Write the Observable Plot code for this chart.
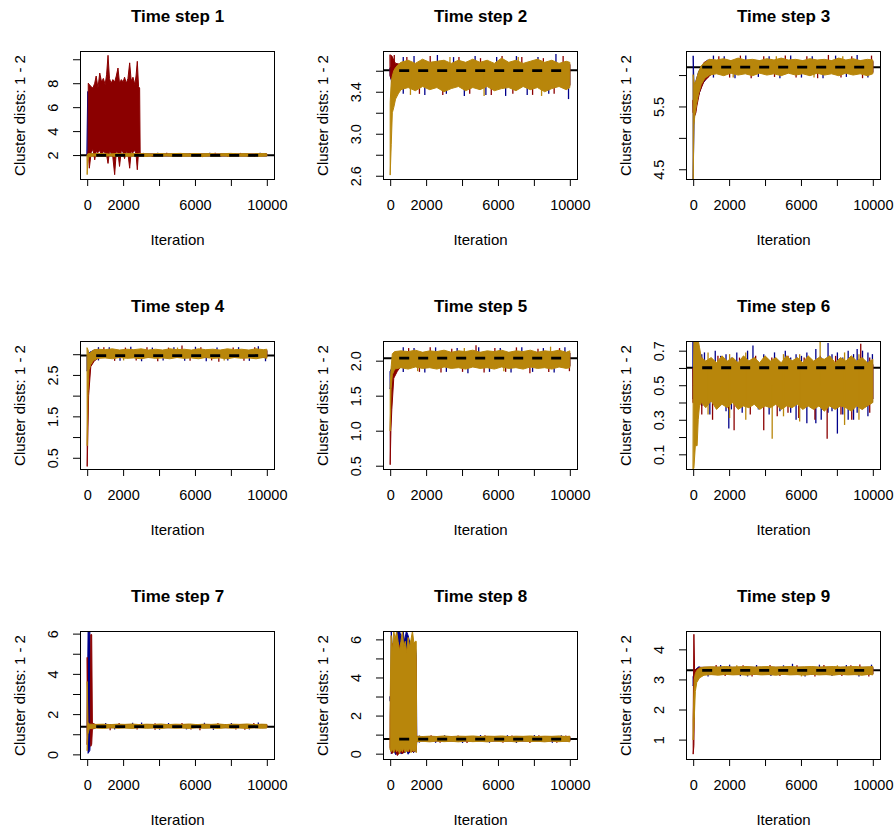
<!DOCTYPE html>
<html>
<head>
<meta charset="utf-8">
<script src="https://cdn.jsdelivr.net/npm/d3@7"></script>
<script src="https://cdn.jsdelivr.net/npm/@observablehq/plot@0.6"></script>
<style>
  html, body { margin: 0; padding: 0; background: white; }
  #wrap { position: relative; width: 895px; height: 832px; background: white; overflow: hidden; }
  .cell { position: absolute; }
</style>
</head>
<body>
<div id="wrap"></div>
<script>
// ---------- shared axis values ----------
const xTicks = [0, 2000, 4000, 6000, 8000, 10000];
const xTickLabels = ["0", "2000", "6000", "10000"];
const yAxisTitle = "Cluster dists: 1 - 2";
const xAxisTitle = "Iteration";
const chainColors = ["#00008B", "#8B0000", "#B8860B"]; // chain 1, 2, 3

// Each chain: band = [iteration, low, high] (dense trace envelope), spikes = [iteration, low, high] (single excursions)

// ---------- Time step 1 ----------
const ts1YRange = [0, 10.69];
const ts1YTicks = [2, 4, 6, 8, 10];
const ts1YLabels = ["2", "4", "6", "8"];
const ts1True = 2.02, ts1Mean = 2.02;
const ts1Blue = [[0,2.0,4.3],[30,2.0,7.3],[60,2.0,7.3],[100,1.95,2.1],[500,1.94,2.08],[10000,1.94,2.08]];
const ts1Red = [[0,2.0,2.05],[50,2.0,2.05],[60,2.3,8.0],[120,0.9,7.9],[220,2.2,7.7],[320,2.5,7.6],[420,1.6,8.0],[500,2.3,8.6],[600,2.2,7.6],[700,2.4,8.85],[800,1.9,8.1],[900,2.3,8.4],[1000,2.2,7.9],[1080,2.0,8.7],[1160,1.3,10.33],[1240,2.3,8.4],[1330,2.2,8.0],[1430,1.8,8.3],[1530,0.36,8.1],[1620,2.3,8.6],[1715,2.2,9.27],[1800,1.05,8.0],[1900,2.4,8.3],[2000,2.2,8.1],[2080,1.7,8.5],[2180,2.3,8.0],[2270,2.1,8.4],[2366,0.9,9.7],[2450,2.3,8.2],[2550,2.2,8.5],[2650,2.4,7.9],[2720,2.1,8.6],[2790,0.77,9.83],[2860,2.3,7.7],[2920,2.2,7.6],[2950,1.94,2.08],[10000,1.94,2.08]];
const ts1Gold = [[0,0.4,2.0],[40,1.5,2.1],[100,1.88,2.12],[400,1.92,2.1],[800,1.9,2.13],[1200,1.93,2.09],[1600,1.89,2.12],[2000,1.92,2.1],[2400,1.9,2.14],[2800,1.93,2.1],[3200,1.88,2.12],[3600,1.92,2.09],[4000,1.9,2.13],[4400,1.93,2.1],[4800,1.89,2.12],[5200,1.91,2.14],[5600,1.9,2.1],[6000,1.93,2.12],[6400,1.88,2.1],[6800,1.92,2.13],[7200,1.9,2.09],[7600,1.93,2.12],[8000,1.89,2.14],[8400,1.92,2.1],[8800,1.9,2.12],[9200,1.93,2.09],[9600,1.89,2.13],[10000,1.92,2.11]];
const ts1BlueSpikes = [[3300,1.85,2.1],[3900,1.95,2.19],[4700,1.83,2.05],[5300,1.95,2.18],[6100,1.86,2.05],[6800,1.95,2.2],[7400,1.84,2.05],[8200,1.95,2.17],[8900,1.85,2.05],[9600,1.95,2.19]];
const ts1RedSpikes = [[3100,1.95,2.18],[3600,1.84,2.05],[4400,1.95,2.2],[5000,1.86,2.05],[5700,1.95,2.17],[6400,1.83,2.05],[7100,1.95,2.19],[7800,1.85,2.05],[8500,1.95,2.18],[9300,1.84,2.05],[9900,1.95,2.17]];
const ts1GoldSpikes = [];

// ---------- Time step 2 ----------
const ts2YRange = [2.569, 3.788];
const ts2YTicks = [2.6, 2.8, 3.0, 3.2, 3.4, 3.6];
const ts2YLabels = ["2.6", "3.0", "3.4"];
const ts2True = 3.61, ts2Mean = 3.605;
const ts2Blue = [[0,3.55,3.63],[150,3.45,3.65],[300,3.42,3.66],[600,3.46,3.66],[10000,3.46,3.66]];
const ts2Red = [[0,3.55,3.75],[100,3.5,3.74],[200,3.3,3.7],[300,3.37,3.67],[600,3.46,3.66],[10000,3.46,3.66]];
const ts2Gold = [[0,2.61,3.3],[60,2.9,3.5],[120,3.2,3.55],[200,3.25,3.6],[300,3.33,3.63],[450,3.38,3.66],[600,3.42,3.68],[1000,3.44,3.7],[1400,3.41,3.67],[1800,3.45,3.71],[2200,3.42,3.68],[2600,3.44,3.69],[3000,3.4,3.7],[3400,3.43,3.67],[3800,3.45,3.7],[4200,3.41,3.68],[4600,3.44,3.71],[5000,3.42,3.68],[5400,3.45,3.7],[5800,3.41,3.67],[6200,3.43,3.72],[6600,3.44,3.68],[7000,3.41,3.7],[7400,3.45,3.67],[7800,3.42,3.69],[8200,3.44,3.71],[8600,3.4,3.68],[9000,3.43,3.7],[9400,3.45,3.67],[9800,3.42,3.69],[10000,3.44,3.68]];
const ts2BlueSpikes = [[700,3.38,3.73],[1300,3.5,3.74],[1900,3.37,3.6],[2600,3.5,3.75],[3100,3.38,3.6],[3500,3.5,3.73],[4100,3.36,3.6],[4700,3.5,3.74],[5300,3.37,3.6],[5900,3.5,3.73],[6400,3.36,3.6],[7000,3.5,3.74],[7600,3.37,3.6],[8200,3.5,3.73],[8800,3.38,3.6],[9200,3.5,3.76],[9900,3.33,3.6]];
const ts2RedSpikes = [[200,3.3,3.75],[900,3.5,3.73],[1600,3.38,3.6],[2200,3.5,3.74],[2900,3.37,3.6],[3800,3.5,3.73],[4400,3.38,3.6],[5000,3.5,3.72],[5600,3.37,3.6],[6200,3.5,3.74],[6800,3.38,3.6],[7300,3.5,3.73],[7900,3.37,3.6],[8500,3.5,3.72],[9100,3.38,3.6],[9600,3.5,3.74]];
const ts2GoldSpikes = [[1100,3.37,3.6],[3300,3.5,3.73],[5200,3.36,3.6],[7100,3.5,3.73],[8400,3.36,3.6]];

// ---------- Time step 3 ----------
const ts3YRange = [4.345, 6.383];
const ts3YTicks = [4.5, 5.0, 5.5, 6.0];
const ts3YLabels = ["4.5", "5.5"];
const ts3True = 6.133, ts3Mean = 6.133;
const ts3Blue = [[0,4.35,6.3],[50,5.3,5.8],[150,5.5,5.9],[300,5.68,6.05],[500,5.85,6.15],[800,5.97,6.24],[1000,6.04,6.22],[10000,6.04,6.22]];
const ts3Red = [[0,5.4,5.6],[80,5.35,5.6],[150,5.4,5.7],[200,5.5,5.9],[350,5.72,6.07],[600,5.9,6.2],[900,5.98,6.24],[1100,6.04,6.22],[10000,6.04,6.22]];
const ts3Gold = [[0,4.35,6.0],[40,5.2,5.9],[100,5.38,5.85],[200,5.55,5.95],[300,5.7,6.05],[450,5.85,6.15],[650,5.95,6.2],[900,6.0,6.25],[1300,6.02,6.24],[1700,5.99,6.26],[2100,6.03,6.23],[2500,6.0,6.27],[2900,6.02,6.24],[3300,5.99,6.25],[3700,6.03,6.23],[4100,6.0,6.26],[4500,6.02,6.24],[4900,5.99,6.27],[5300,6.03,6.24],[5700,6.0,6.25],[6100,6.02,6.23],[6500,5.99,6.26],[6900,6.03,6.24],[7300,6.0,6.25],[7700,6.02,6.23],[8100,5.99,6.27],[8500,6.03,6.24],[8900,6.0,6.26],[9300,6.02,6.23],[9700,5.99,6.25],[10000,6.02,6.24]];
const ts3BlueSpikes = [[1100,5.96,6.31],[1700,6.1,6.3],[2300,5.95,6.1],[2900,6.1,6.31],[3600,5.97,6.1],[4200,6.1,6.3],[4800,5.95,6.1],[5400,6.1,6.31],[6000,5.96,6.1],[6600,6.1,6.3],[7200,5.95,6.1],[7900,6.1,6.31],[8500,5.97,6.1],[9100,6.1,6.32],[9700,5.96,6.1]];
const ts3RedSpikes = [[1400,6.1,6.3],[2000,5.96,6.1],[2600,6.1,6.31],[3200,5.95,6.1],[3900,6.1,6.3],[4500,5.97,6.1],[5100,6.1,6.31],[5700,5.96,6.1],[6300,6.1,6.3],[6900,5.95,6.1],[7500,6.1,6.32],[8200,5.96,6.1],[8800,6.1,6.3],[9400,5.95,6.1],[9900,6.1,6.31]];
const ts3GoldSpikes = [[2200,5.96,6.1],[4600,6.1,6.3],[6700,5.96,6.1],[8300,6.1,6.3]];

// ---------- Time step 4 ----------
const ts4YRange = [0.229, 3.319];
const ts4YTicks = [0.5, 1.0, 1.5, 2.0, 2.5, 3.0];
const ts4YLabels = ["0.5", "1.5", "2.5"];
const ts4True = 2.98, ts4Mean = 2.98;
const ts4Blue = [[0,2.6,2.95],[150,2.75,3.05],[400,2.85,3.1],[700,2.93,3.09],[10000,2.93,3.09]];
const ts4Red = [[0,0.3,0.8],[30,0.9,2.0],[80,2.0,2.9],[200,2.7,3.0],[400,2.84,3.1],[700,2.93,3.09],[10000,2.93,3.09]];
const ts4Gold = [[0,0.8,3.15],[50,2.1,3.1],[100,2.62,3.0],[200,2.75,3.05],[350,2.85,3.1],[600,2.9,3.12],[1000,2.91,3.11],[1400,2.89,3.13],[1800,2.92,3.1],[2200,2.9,3.12],[2600,2.91,3.11],[3000,2.89,3.13],[3400,2.92,3.1],[3800,2.9,3.12],[4200,2.91,3.1],[4600,2.89,3.13],[5000,2.92,3.11],[5400,2.9,3.12],[5800,2.91,3.1],[6200,2.89,3.13],[6600,2.92,3.11],[7000,2.9,3.12],[7400,2.91,3.1],[7800,2.89,3.13],[8200,2.92,3.11],[8600,2.9,3.12],[9000,2.91,3.1],[9400,2.89,3.13],[9800,2.92,3.11],[10000,2.9,3.12]];
const ts4BlueSpikes = [[600,2.85,3.17],[1200,3.0,3.17],[1800,2.84,3.0],[2400,3.0,3.18],[3000,2.83,3.0],[3600,3.0,3.16],[4200,2.85,3.0],[4800,3.0,3.17],[5400,2.84,3.0],[6000,3.0,3.18],[6600,2.83,3.0],[7200,3.0,3.16],[7800,2.85,3.0],[8400,3.0,3.17],[9000,2.84,3.0],[9500,3.0,3.19],[9900,2.83,3.0]];
const ts4RedSpikes = [[900,3.0,3.17],[1500,2.84,3.0],[2100,3.0,3.16],[2700,2.85,3.0],[3300,3.0,3.17],[3900,2.83,3.0],[4500,3.0,3.16],[5250,3.0,3.21],[5700,2.84,3.0],[6300,3.0,3.17],[6900,2.85,3.0],[7300,2.82,3.0],[8100,3.0,3.16],[8700,2.84,3.0],[9300,3.0,3.17]];
const ts4GoldSpikes = [[2000,2.85,3.0],[5000,3.0,3.16],[7600,2.85,3.0]];

// ---------- Time step 5 ----------
const ts5YRange = [0.453, 2.281];
const ts5YTicks = [0.5, 1.0, 1.5, 2.0];
const ts5YLabels = ["0.5", "1.0", "1.5", "2.0"];
const ts5True = 2.043, ts5Mean = 2.043;
const ts5Blue = [[0,1.6,1.85],[100,1.75,1.9],[300,1.85,2.1],[500,1.92,2.11],[10000,1.92,2.11]];
const ts5Red = [[0,0.52,1.0],[40,1.0,1.55],[90,1.3,1.8],[200,1.75,2.05],[400,1.85,2.11],[600,1.92,2.11],[10000,1.92,2.11]];
const ts5Gold = [[0,1.0,1.65],[50,1.6,1.9],[120,1.8,2.1],[250,1.88,2.13],[600,1.9,2.14],[1000,1.88,2.13],[1400,1.91,2.15],[1800,1.89,2.12],[2200,1.9,2.14],[2600,1.88,2.13],[3000,1.91,2.15],[3400,1.89,2.12],[3800,1.9,2.14],[4200,1.88,2.13],[4600,1.91,2.15],[5000,1.89,2.12],[5400,1.9,2.14],[5800,1.88,2.13],[6200,1.91,2.15],[6600,1.89,2.12],[7000,1.9,2.14],[7400,1.88,2.13],[7800,1.91,2.15],[8200,1.89,2.12],[8600,1.9,2.14],[9000,1.88,2.13],[9400,1.91,2.15],[9800,1.89,2.12],[10000,1.9,2.14]];
const ts5BlueSpikes = [[700,1.84,2.19],[1300,2.0,2.18],[1900,1.83,2.0],[2500,2.0,2.19],[3100,1.84,2.0],[3700,2.0,2.18],[4300,1.82,2.0],[4900,2.0,2.19],[5500,1.84,2.0],[6100,2.0,2.18],[6700,1.83,2.0],[7300,2.0,2.19],[7900,1.84,2.0],[8500,2.0,2.18],[9100,1.83,2.0],[9700,2.0,2.19]];
const ts5RedSpikes = [[1000,2.0,2.18],[1600,1.84,2.0],[2200,2.0,2.19],[2800,1.83,2.0],[3400,2.0,2.17],[4000,1.84,2.0],[4750,2.0,2.22],[5200,1.83,2.0],[5800,2.0,2.18],[6400,1.84,2.0],[7000,2.0,2.19],[7750,1.82,2.0],[8200,2.0,2.17],[8800,1.84,2.0],[9400,2.0,2.18],[9950,1.85,2.0]];
const ts5GoldSpikes = [[1500,1.85,2.0],[4100,2.0,2.18],[6300,1.85,2.0],[8900,2.0,2.2]];

// ---------- Time step 6 ----------
const ts6YRange = [0.015, 0.756];
const ts6YTicks = [0.1, 0.2, 0.3, 0.4, 0.5, 0.6, 0.7];
const ts6YLabels = ["0.1", "0.3", "0.5", "0.7"];
const ts6True = 0.604, ts6Mean = 0.604;
const ts6Blue = [[0,0.42,0.76],[60,0.42,0.76],[100,0.45,0.62],[300,0.42,0.62],[10000,0.42,0.62]];
const ts6Red = [[0,0.4,0.6],[300,0.42,0.62],[10000,0.42,0.62]];
const ts6Gold = [[0,0.015,0.5],[40,0.02,0.76],[120,0.15,0.76],[220,0.15,0.76],[280,0.3,0.76],[350,0.38,0.72],[450,0.4,0.66],[700,0.37,0.64],[1000,0.41,0.66],[1300,0.36,0.63],[1600,0.39,0.67],[1900,0.37,0.64],[2200,0.4,0.66],[2500,0.36,0.63],[2800,0.38,0.67],[3100,0.37,0.64],[3400,0.39,0.66],[3700,0.36,0.63],[4000,0.38,0.67],[4300,0.37,0.64],[4600,0.39,0.66],[4900,0.36,0.63],[5200,0.38,0.67],[5500,0.37,0.64],[5800,0.39,0.66],[6100,0.36,0.63],[6400,0.38,0.67],[6700,0.36,0.64],[7000,0.38,0.66],[7300,0.35,0.65],[7600,0.38,0.67],[7900,0.36,0.63],[8200,0.38,0.66],[8500,0.37,0.64],[8800,0.35,0.67],[9100,0.38,0.64],[9400,0.36,0.66],[9700,0.38,0.63],[10000,0.4,0.65]];
const ts6BlueSpikes = [[450,0.38,0.68],[600,0.42,0.69],[900,0.33,0.62],[1200,0.42,0.7],[1500,0.4,0.67],[1800,0.35,0.68],[1955,0.25,0.62],[2100,0.36,0.66],[2400,0.42,0.69],[2700,0.34,0.62],[3000,0.42,0.7],[3300,0.42,0.73],[3600,0.36,0.62],[3900,0.42,0.68],[4200,0.33,0.62],[4500,0.42,0.69],[4800,0.35,0.62],[5100,0.42,0.7],[5400,0.34,0.66],[5700,0.3,0.68],[6000,0.37,0.67],[6300,0.28,0.69],[6800,0.28,0.71],[7100,0.3,0.66],[7480,0.34,0.745],[7700,0.35,0.68],[8000,0.22,0.69],[8300,0.33,0.66],[8600,0.3,0.7],[8900,0.3,0.68],[9100,0.34,0.71],[9400,0.36,0.7],[9700,0.32,0.69],[9950,0.4,0.68]];
const ts6RedSpikes = [[450,0.33,0.66],[1050,0.3,0.62],[1350,0.42,0.67],[1950,0.36,0.62],[2250,0.24,0.62],[2550,0.42,0.66],[3150,0.33,0.62],[3450,0.42,0.67],[3900,0.24,0.62],[4350,0.42,0.66],[4650,0.32,0.62],[5250,0.34,0.67],[5850,0.31,0.62],[6150,0.42,0.66],[6750,0.3,0.62],[7050,0.42,0.67],[7430,0.19,0.62],[7900,0.42,0.67],[8200,0.33,0.62],[8800,0.3,0.66],[9300,0.42,0.74],[9800,0.34,0.66]];
const ts6GoldSpikes = [[800,0.33,0.69],[2000,0.31,0.68],[2900,0.3,0.69],[4370,0.19,0.5],[5000,0.32,0.68],[5900,0.29,0.68],[7040,0.5,0.756],[8400,0.27,0.69],[9200,0.3,0.68]];

// ---------- Time step 7 ----------
const ts7YRange = [-0.23, 6.13];
const ts7YTicks = [0, 1, 2, 3, 4, 5, 6];
const ts7YLabels = ["0", "2", "4", "6"];
const ts7True = 1.40, ts7Mean = 1.40;
const ts7Blue = [[0,1.3,1.5],[50,0.05,6.13],[150,0.2,6.13],[200,1.3,1.55],[400,1.33,1.47],[10000,1.33,1.47]];
const ts7Red = [[0,0.5,4.8],[40,1.3,1.5],[170,1.3,1.5],[200,0.4,5.95],[250,0.5,5.95],[290,1.25,1.55],[500,1.33,1.47],[10000,1.33,1.47]];
const ts7Gold = [[0,0.2,3.6],[40,1.0,1.6],[120,1.28,1.5],[500,1.31,1.49],[900,1.29,1.5],[1300,1.32,1.48],[1700,1.3,1.5],[2100,1.31,1.49],[2500,1.29,1.51],[2900,1.32,1.48],[3300,1.3,1.5],[3700,1.31,1.49],[4100,1.29,1.51],[4500,1.32,1.48],[4900,1.3,1.5],[5300,1.31,1.49],[5700,1.29,1.51],[6100,1.32,1.48],[6500,1.3,1.5],[6900,1.31,1.49],[7300,1.29,1.51],[7700,1.32,1.48],[8100,1.3,1.5],[8500,1.31,1.49],[8900,1.29,1.51],[9300,1.32,1.48],[9700,1.3,1.5],[10000,1.31,1.49]];
const ts7BlueSpikes = [[1000,1.4,1.56],[1500,1.24,1.4],[2500,1.4,1.57],[3000,1.4,1.58],[4000,1.23,1.4],[4500,1.4,1.56],[5500,1.24,1.4],[6500,1.4,1.57],[7000,1.22,1.4],[8000,1.4,1.56],[9000,1.24,1.4],[9500,1.4,1.58]];
const ts7RedSpikes = [[1250,1.2,1.4],[1750,1.4,1.56],[2750,1.24,1.4],[3750,1.22,1.55],[5250,1.4,1.56],[5750,1.24,1.4],[6250,1.2,1.4],[7250,1.4,1.56],[8250,1.24,1.4],[8750,1.22,1.4],[9250,1.4,1.56]];
const ts7GoldSpikes = [];

// ---------- Time step 8 ----------
const ts8YRange = [-0.28, 6.44];
const ts8YTicks = [0, 1, 2, 3, 4, 5, 6];
const ts8YLabels = ["0", "2", "4", "6"];
const ts8True = 0.79, ts8Mean = 0.79;
const ts8Blue = [[0,2.75,3.0],[40,2.7,3.0],[60,0.0,6.44],[150,0.3,5.0],[300,-0.05,6.0],[400,0.2,6.44],[520,0.1,6.44],[620,-0.02,6.1],[720,0.15,6.44],[800,0.05,5.9],[900,0.2,6.44],[1000,-0.03,6.2],[1100,0.1,5.8],[1200,0.2,5.7],[1300,0.05,5.5],[1400,0.15,5.6],[1450,0.1,5.2],[1480,0.67,0.89],[10000,0.67,0.89]];
const ts8Red = [[0,0.3,2.0],[100,0.0,5.8],[250,0.2,5.5],[400,-0.1,5.9],[550,0.1,5.6],[700,0.0,5.5],[850,0.2,5.4],[1000,0.1,5.6],[1150,0.15,5.3],[1300,0.1,5.5],[1440,0.2,5.0],[1470,0.67,0.89],[10000,0.67,0.89]];
const ts8Gold = [[0,0.2,2.9],[50,0.1,6.2],[120,0.25,5.4],[200,0.05,6.44],[280,0.3,6.0],[360,0.1,6.44],[440,0.2,5.9],[520,0.0,5.4],[600,0.25,5.9],[680,0.1,6.44],[760,0.3,5.6],[840,0.05,5.9],[920,0.2,5.3],[1000,0.1,6.1],[1080,0.3,5.6],[1160,0.05,6.0],[1240,0.2,6.44],[1320,0.1,5.8],[1400,0.25,5.9],[1450,0.05,5.9],[1470,0.62,0.92],[1800,0.65,0.9],[2200,0.62,0.92],[2600,0.66,0.9],[3000,0.63,0.93],[3400,0.65,0.9],[3800,0.62,0.92],[4200,0.66,0.91],[4600,0.63,0.93],[5000,0.65,0.9],[5400,0.62,0.92],[5800,0.66,0.91],[6200,0.63,0.93],[6600,0.65,0.9],[7000,0.62,0.92],[7400,0.66,0.91],[7800,0.63,0.93],[8200,0.65,0.9],[8600,0.62,0.92],[9000,0.66,0.91],[9400,0.63,0.93],[9800,0.65,0.9],[10000,0.62,0.92]];
const ts8BlueSpikes = [[1600,0.58,0.95],[2500,0.57,0.8],[3000,0.8,0.97],[4000,0.56,0.8],[5000,0.8,0.98],[5500,0.57,0.8],[6500,0.8,0.97],[7000,0.56,0.8],[8000,0.8,0.98],[9000,0.57,0.8],[9500,0.8,0.97]];
const ts8RedSpikes = [[2250,0.8,0.97],[2750,0.57,0.8],[3750,0.8,0.96],[4250,0.56,0.8],[5250,0.8,0.97],[6250,0.57,0.8],[6750,0.8,0.96],[7750,0.56,0.8],[8250,0.8,0.97],[9250,0.57,0.8],[9750,0.8,0.96]];
const ts8GoldSpikes = [];

// ---------- Time step 9 ----------
const ts9YRange = [0.355, 4.61];
const ts9YTicks = [1, 2, 3, 4];
const ts9YLabels = ["1", "2", "3", "4"];
const ts9True = 3.32, ts9Mean = 3.32;
const ts9Blue = [[0,2.8,3.1],[100,3.0,3.3],[250,3.2,3.4],[500,3.18,3.4],[10000,3.18,3.4]];
const ts9Red = [[0,0.53,1.7],[40,0.8,4.5],[80,2.8,3.3],[200,3.1,3.35],[400,3.14,3.4],[600,3.18,3.4],[10000,3.18,3.4]];
const ts9Gold = [[0,1.0,1.7],[60,1.7,3.0],[120,2.6,3.2],[200,2.9,3.3],[350,3.05,3.38],[600,3.14,3.41],[1000,3.16,3.42],[1400,3.14,3.41],[1800,3.17,3.43],[2200,3.15,3.41],[2600,3.16,3.42],[3000,3.14,3.43],[3400,3.17,3.41],[3800,3.15,3.42],[4200,3.16,3.43],[4600,3.14,3.41],[5000,3.17,3.42],[5400,3.15,3.43],[5800,3.16,3.41],[6200,3.14,3.42],[6600,3.17,3.43],[7000,3.15,3.41],[7400,3.16,3.42],[7800,3.14,3.43],[8200,3.17,3.41],[8600,3.15,3.42],[9000,3.16,3.43],[9400,3.14,3.41],[9800,3.17,3.42],[10000,3.15,3.43]];
const ts9BlueSpikes = [[300,3.2,3.44],[800,3.1,3.3],[1500,3.3,3.48],[2000,3.3,3.49],[2600,3.11,3.3],[3000,3.1,3.3],[3500,3.3,3.48],[4300,3.11,3.3],[5000,3.3,3.47],[5500,3.3,3.52],[6200,3.1,3.3],[7000,3.3,3.49],[7700,3.11,3.3],[8500,3.3,3.48],[9200,3.1,3.3],[9900,3.3,3.49]];
const ts9RedSpikes = [[1250,3.3,3.48],[1750,3.11,3.3],[2750,3.3,3.47],[3250,3.1,3.3],[4250,3.3,3.48],[4800,3.11,3.3],[5750,3.3,3.47],[6750,3.1,3.3],[7250,3.3,3.48],[8250,3.11,3.3],[8750,3.3,3.47],[9250,3.3,3.5],[9750,3.1,3.3]];
const ts9GoldSpikes = [[2400,3.3,3.47],[6000,3.1,3.3],[8000,3.3,3.47]];

const dashFrom = 0, dashTo = 10000;

const panels = [
  {title: "Time step 1", bands: [ts1Blue, ts1Red, ts1Gold], spikes: [ts1BlueSpikes, ts1RedSpikes, ts1GoldSpikes], trueVal: ts1True, meanVal: ts1Mean, yRange: ts1YRange, yTicks: ts1YTicks, yLabels: ts1YLabels},
  {title: "Time step 2", bands: [ts2Blue, ts2Red, ts2Gold], spikes: [ts2BlueSpikes, ts2RedSpikes, ts2GoldSpikes], trueVal: ts2True, meanVal: ts2Mean, yRange: ts2YRange, yTicks: ts2YTicks, yLabels: ts2YLabels},
  {title: "Time step 3", bands: [ts3Blue, ts3Red, ts3Gold], spikes: [ts3BlueSpikes, ts3RedSpikes, ts3GoldSpikes], trueVal: ts3True, meanVal: ts3Mean, yRange: ts3YRange, yTicks: ts3YTicks, yLabels: ts3YLabels},
  {title: "Time step 4", bands: [ts4Blue, ts4Red, ts4Gold], spikes: [ts4BlueSpikes, ts4RedSpikes, ts4GoldSpikes], trueVal: ts4True, meanVal: ts4Mean, yRange: ts4YRange, yTicks: ts4YTicks, yLabels: ts4YLabels},
  {title: "Time step 5", bands: [ts5Blue, ts5Red, ts5Gold], spikes: [ts5BlueSpikes, ts5RedSpikes, ts5GoldSpikes], trueVal: ts5True, meanVal: ts5Mean, yRange: ts5YRange, yTicks: ts5YTicks, yLabels: ts5YLabels},
  {title: "Time step 6", bands: [ts6Blue, ts6Red, ts6Gold], spikes: [ts6BlueSpikes, ts6RedSpikes, ts6GoldSpikes], trueVal: ts6True, meanVal: ts6Mean, yRange: ts6YRange, yTicks: ts6YTicks, yLabels: ts6YLabels},
  {title: "Time step 7", bands: [ts7Blue, ts7Red, ts7Gold], spikes: [ts7BlueSpikes, ts7RedSpikes, ts7GoldSpikes], trueVal: ts7True, meanVal: ts7Mean, yRange: ts7YRange, yTicks: ts7YTicks, yLabels: ts7YLabels},
  {title: "Time step 8", bands: [ts8Blue, ts8Red, ts8Gold], spikes: [ts8BlueSpikes, ts8RedSpikes, ts8GoldSpikes], trueVal: ts8True, meanVal: ts8Mean, yRange: ts8YRange, yTicks: ts8YTicks, yLabels: ts8YLabels},
  {title: "Time step 9", bands: [ts9Blue, ts9Red, ts9Gold], spikes: [ts9BlueSpikes, ts9RedSpikes, ts9GoldSpikes], trueVal: ts9True, meanVal: ts9Mean, yRange: ts9YRange, yTicks: ts9YTicks, yLabels: ts9YLabels}
];

const FONT = "'Liberation Sans', Arial, Helvetica, sans-serif";
const colLeft = [0, 302.7, 605.7];
const rowTop = [0, 290, 580];

function chainMarks(band, spikes, color) {
  return [
    Plot.area(band, {x1: d => d[0], y1: d => d[1], y2: d => d[2],
      fill: color, stroke: color, strokeWidth: 1, curve: "linear", clip: true}),
    Plot.ruleX(spikes, {x: d => d[0], y1: d => d[1], y2: d => d[2],
      stroke: color, strokeWidth: 1.3, clip: true})
  ];
}

function makePanel(p) {
  return Plot.plot({
    width: 289,
    height: 252,
    marginLeft: 80,
    marginRight: 15,
    marginTop: 51,
    marginBottom: 73,
    x: {domain: [-400, 10400]},
    y: {domain: p.yRange},
    style: {fontFamily: FONT, background: "white", color: "black", overflow: "visible"},
    marks: [
      Plot.ruleY([p.trueVal], {stroke: "black", strokeWidth: 2}),
      ...p.bands.flatMap((band, i) => chainMarks(band, p.spikes[i], chainColors[i])),
      Plot.ruleY([p.meanVal], {x1: dashFrom, x2: dashTo, stroke: "black", strokeWidth: 2.8,
        strokeDasharray: "10,9", strokeDashoffset: 10}),
      Plot.frame({stroke: "black", strokeWidth: 1}),
      Plot.axisX({ticks: xTicks, tickSize: 7, tickFormat: () => "", anchor: "bottom", label: null}),
      Plot.axisY({ticks: p.yTicks, tickSize: 7, tickFormat: () => "", anchor: "left", label: null}),
      Plot.text(xTickLabels, {x: d => +d, text: d => d, frameAnchor: "bottom", dy: 26,
        lineAnchor: "middle", fontSize: 14.5, fill: "black"}),
      Plot.text(p.yLabels, {y: d => +d, text: d => d, frameAnchor: "left", dx: -27, rotate: -90,
        textAnchor: "middle", lineAnchor: "middle", fontSize: 14.5, fill: "black"}),
      Plot.text([p.title], {text: d => d, frameAnchor: "top", dy: -35, lineAnchor: "middle",
        fontSize: 17, fontWeight: "bold", fill: "black"}),
      Plot.text([xAxisTitle], {text: d => d, frameAnchor: "bottom", dy: 61, lineAnchor: "middle",
        fontSize: 15, fill: "black"}),
      Plot.text([yAxisTitle], {text: d => d, frameAnchor: "left", dx: -60, rotate: -90,
        textAnchor: "middle", lineAnchor: "middle", fontSize: 15, fill: "black"})
    ]
  });
}

const wrap = document.getElementById("wrap");
panels.forEach((p, i) => {
  const cell = document.createElement("div");
  cell.className = "cell";
  cell.style.left = colLeft[i % 3] + "px";
  cell.style.top = rowTop[Math.floor(i / 3)] + "px";
  cell.appendChild(makePanel(p));
  wrap.appendChild(cell);
});
</script>
</body>
</html>
